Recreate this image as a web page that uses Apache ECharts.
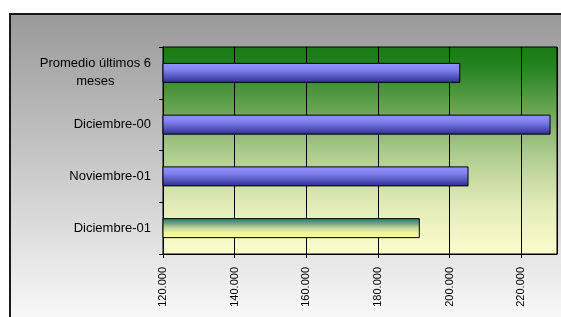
<!DOCTYPE html>
<html>
<head>
<meta charset="utf-8">
<script src="https://cdn.jsdelivr.net/npm/echarts@6/dist/echarts.min.js"></script>
<style>
  html, body { margin: 0; padding: 0; background: #fff; }
  #box { width: 561px; height: 317px; }
</style>
</head>
<body>
<div id="box"></div>
<script>
// datos
const categories = ["Diciembre-01", "Noviembre-01", "Diciembre-00", "Promedio últimos 6\nmeses"];
const values = [191700, 205300, 228200, 203000];
const tickValues = [120000, 140000, 160000, 180000, 200000, 220000];
const tickLabels = ["120.000", "140.000", "160.000", "180.000", "200.000", "220.000"];

const grad = (stops) => new echarts.graphic.LinearGradient(0, 0, 0, 1,
  stops.map((c, i) => ({ offset: c[0], color: c[1] })));

const blueBar = grad([[0, "#9494ff"], [0.35, "#8080f0"], [0.7, "#5454bc"], [1, "#2c2c8c"]]);
const yellowBar = grad([[0, "#207668"], [0.25, "#6e9e82"], [0.5, "#c4d89c"], [0.72, "#eef29a"], [1, "#fbfb98"]]);

const myChart = echarts.init(document.getElementById("box"), null, { renderer: "canvas" });

const option = {
  animation: false,
  backgroundColor: "#ffffff",
  textStyle: { fontFamily: "Liberation Sans, Arial, sans-serif" },
  graphic: [
    {
      type: "rect",
      z: -100,
      silent: true,
      shape: { x: 10, y: 14, width: 600, height: 400 },
      style: {
        fill: new echarts.graphic.LinearGradient(0, 14, 0, 317, [
          { offset: 0, color: "#999999" },
          { offset: 1, color: "#f8f8f8" }
        ], true),
        stroke: "#1a1a1a",
        lineWidth: 2
      }
    }
  ],
  grid: {
    left: 163,
    top: 47,
    right: 4,
    bottom: 63,
    containLabel: false,
    show: true,
    backgroundColor: grad([[0, "#177b12"], [0.1, "#258320"], [0.3, "#68a452"], [0.5, "#a9c98a"], [0.75, "#e0eab6"], [1, "#fdfdcc"]]),
    borderColor: "#000",
    borderWidth: 1
  },
  xAxis: {
    type: "value",
    min: 120000,
    max: 230000,
    interval: 20000,
    axisLine: { show: true, lineStyle: { color: "#000", width: 1 } },
    axisTick: { show: true, length: 4, lineStyle: { color: "#000" } },
    splitLine: { show: true, lineStyle: { color: "#000", width: 1 } },
    axisLabel: {
      rotate: 90,
      margin: 13,
      fontSize: 11,
      color: "#000",
      showMaxLabel: false,
      formatter: (v) => {
        const i = tickValues.indexOf(v);
        return i >= 0 ? tickLabels[i] : "";
      }
    }
  },
  yAxis: {
    type: "category",
    data: categories,
    axisLine: { show: true, lineStyle: { color: "#000", width: 1 } },
    axisTick: { show: true, length: 4, lineStyle: { color: "#000" } },
    splitLine: { show: false },
    axisLabel: {
      margin: 12,
      fontSize: 13,
      color: "#000",
      lineHeight: 18,
      formatter: (v) => {
        const parts = v.split("\n");
        if (parts.length === 1) return "{a|" + v + "}";
        return "{a|" + parts[0] + "}\n{b|" + parts[1] + "}";
      },
      rich: {
        a: { fontSize: 13, color: "#000", lineHeight: 18 },
        b: { fontSize: 13, color: "#000", lineHeight: 18, align: "center" }
      }
    }
  },
  series: [
    {
      type: "bar",
      barWidth: 20,
      data: values.map((v, i) => ({
        value: v,
        itemStyle: {
          color: i === 0 ? yellowBar : blueBar,
          borderColor: "#000",
          borderWidth: 1
        }
      }))
    }
  ]
};

myChart.setOption(option);
</script>
</body>
</html>
